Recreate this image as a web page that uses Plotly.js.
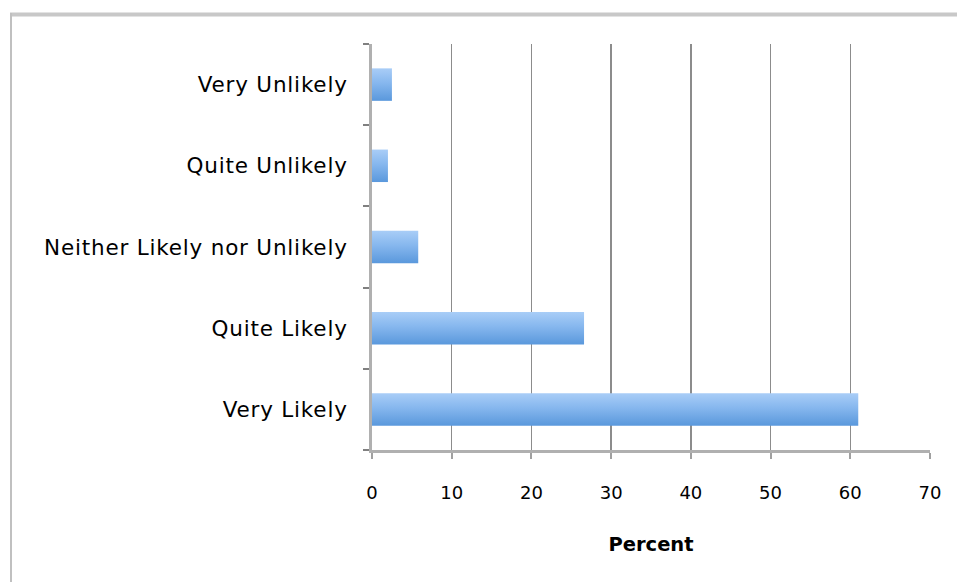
<!DOCTYPE html>
<html>
<head>
<meta charset="utf-8">
<script src="https://cdn.plot.ly/plotly-3.0.1.min.js"></script>
<style>html,body{margin:0;padding:0;background:#fff;}#chart{width:957px;height:582px;}</style>
</head>
<body>
<div id="chart"></div>
<script>
const categories = ["Very Likely", "Quite Likely", "Neither Likely nor Unlikely", "Quite Unlikely", "Very Unlikely"];
const percent = [61, 26.6, 5.8, 2.0, 2.5];
const xTicks = [0, 10, 20, 30, 40, 50, 60, 70];

const W = 957, H = 582;
const L = 372, R = 27, T = 44, B = 132;
const pw = W - L - R, ph = H - T - B;
function px(x){ return (x - L) / pw; }
function py(y){ return (H - B - y) / ph; }

const data = [{
  type: 'bar',
  orientation: 'h',
  y: categories,
  x: percent,
  marker: {color: '#7cb0ec', line: {width: 0}},
  hoverinfo: 'skip'
}];

const layout = {
  width: W, height: H,
  margin: {l: L, r: R, t: T, b: B, pad: 0},
  paper_bgcolor: '#ffffff',
  plot_bgcolor: '#ffffff',
  showlegend: false,
  bargap: 0.6,
  font: {family: 'DejaVu Sans, sans-serif', color: '#000'},
  xaxis: {
    range: [0, 70],
    tickvals: xTicks,
    ticktext: xTicks.map(String),
    showgrid: true, gridcolor: '#8c8c8c', gridwidth: 1.5,
    zeroline: false,
    showline: true, linecolor: '#b0b0b0', linewidth: 3,
    ticks: 'outside', ticklen: 6, tickcolor: '#a0a0a0', tickwidth: 2,
    ticklabelstandoff: 18,
    tickfont: {size: 18, family: 'DejaVu Sans, sans-serif', color: '#000'},
    title: {text: '<b>Percent</b>', font: {size: 19.5, family: 'DejaVu Sans, sans-serif', color: '#000'}, standoff: 36},
    fixedrange: true
  },
  yaxis: {
    type: 'category',
    categoryorder: 'array', categoryarray: categories,
    showgrid: false, zeroline: false,
    showline: true, linecolor: '#b0b0b0', linewidth: 3,
    ticks: 'outside', ticklen: 6, tickcolor: '#808080', tickwidth: 2,
    tickson: 'boundaries',
    ticklabelstandoff: 17,
    tickfont: {size: 21.5, family: 'DejaVu Sans, sans-serif', color: '#000'},
    fixedrange: true
  },
  shapes: [
    {type: 'line', xref: 'paper', yref: 'paper', x0: px(10), x1: px(957), y0: py(14.5), y1: py(14.5), line: {color: '#c8c8c8', width: 4}},
    {type: 'line', xref: 'paper', yref: 'paper', x0: px(11), x1: px(11), y0: py(13), y1: py(582), line: {color: '#c0c0c0', width: 2}}
  ]
};

Plotly.newPlot('chart', data, layout, {staticPlot: true, displayModeBar: false}).then(function(gd){
  const svg = gd.querySelector('svg.main-svg');
  const ns = 'http://www.w3.org/2000/svg';
  let defs = svg.querySelector('defs');
  if (!defs) { defs = document.createElementNS(ns, 'defs'); svg.insertBefore(defs, svg.firstChild); }
  const g = document.createElementNS(ns, 'linearGradient');
  g.setAttribute('id', 'barGrad');
  g.setAttribute('x1', '0'); g.setAttribute('y1', '0'); g.setAttribute('x2', '0'); g.setAttribute('y2', '1');
  [['0', '#a9cdf7'], ['0.45', '#86b7ee'], ['1', '#5a98dc']].forEach(function(s){
    const st = document.createElementNS(ns, 'stop');
    st.setAttribute('offset', s[0]); st.setAttribute('stop-color', s[1]);
    g.appendChild(st);
  });
  defs.appendChild(g);
  gd.querySelectorAll('.barlayer .point path').forEach(function(p){
    p.style.fill = 'url(#barGrad)';
  });
  gd.querySelectorAll('.ytick text').forEach(function(t){
    t.style.letterSpacing = '0.8px';
  });
});
</script>
</body>
</html>
